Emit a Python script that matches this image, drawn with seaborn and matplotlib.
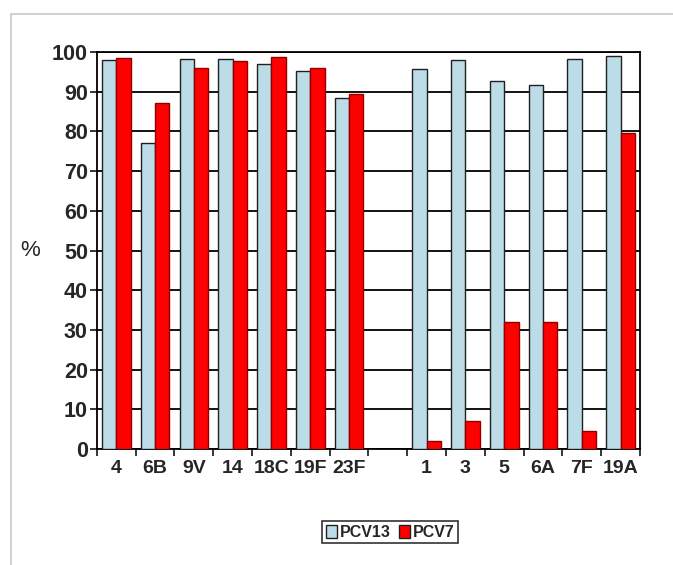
import pandas as pd
import matplotlib.pyplot as plt
import seaborn as sns
import numpy as np
from matplotlib.patches import Rectangle

# Serotipos e percentuais de cobertura
serotypes = ['4', '6B', '9V', '14', '18C', '19F', '23F', '',
             '1', '3', '5', '6A', '7F', '19A']
pcv13 = [98, 77, 98.2, 98.2, 97, 95.3, 88.5, np.nan,
         95.8, 98, 92.7, 91.6, 98.3, 99]
pcv7 = [98.5, 87.2, 96, 97.7, 98.8, 96, 89.3, np.nan,
        2, 7, 32, 32, 4.5, 79.6]
series = ['PCV13', 'PCV7']
colors = ['#bcdde8', '#ff0000']

sns.set_style('white')
plt.rcParams['font.family'] = ['Liberation Sans', 'DejaVu Sans']
plt.rcParams['font.weight'] = 'bold'

dt = pd.DataFrame({'Serotype': serotypes, 'PCV13': pcv13, 'PCV7': pcv7})
dt = dt.melt(id_vars='Serotype', var_name='Vacina', value_name='Valor')

fig = plt.figure(figsize=(6.73, 5.65), dpi=100)
ax = fig.add_axes([0.144, 0.205, 0.807, 0.703])

# Moldura cinza do gráfico
fig.patches.append(Rectangle((0.017, -0.01), 1.0, 0.985, transform=fig.transFigure,
                             fill=False, edgecolor='#c8c8c8', linewidth=1.2))

sns.barplot(data=dt, x='Serotype', y='Valor', hue='Vacina', order=serotypes,
            hue_order=series, palette=colors, saturation=1, width=0.74, ax=ax,
            edgecolor='#202020', linewidth=1.0, zorder=3)

# Borda das barras vermelhas mais escura
for bar in ax.containers[1]:
    bar.set_edgecolor('#900000')

ax.set_ylim(0, 100)
ax.set_xlim(-0.5, len(serotypes) - 0.5)
ax.set_yticks(np.arange(0, 101, 10))
ax.set_axisbelow(True)
ax.grid(axis='y', color='black', linewidth=1.3, zorder=0)
for s in ax.spines.values():
    s.set_color('black')
    s.set_linewidth(1.3)

ax.set_xlabel('')
ax.set_ylabel('%', rotation=0, fontsize=16, fontweight='normal', labelpad=16, va='center')
ax.tick_params(axis='y', labelsize=15.5, length=5, width=1.3, direction='out', left=True, pad=1.5)
ax.tick_params(axis='x', labelsize=14, length=0, pad=8)
ax.set_xticks(np.arange(-0.5, len(serotypes)), minor=True)
ax.tick_params(axis='x', which='minor', length=5, width=1.3, direction='out', bottom=True)
for lab in ax.get_xticklabels() + ax.get_yticklabels():
    lab.set_fontweight('bold')

# Legenda embaixo
sns.move_legend(ax, loc='center', bbox_to_anchor=(0.54, -0.209), ncol=2,
                title=None, frameon=True, fontsize=11.5, handlelength=0.7,
                handleheight=0.9, handletextpad=0.2, columnspacing=0.5,
                borderpad=0.2, borderaxespad=0, fancybox=False, edgecolor='black')
leg = ax.get_legend()
leg.get_frame().set_linewidth(1.2)
for t in leg.get_texts():
    t.set_fontweight('bold')

plt.savefig('out.png', format='png', dpi=100)
plt.close()
